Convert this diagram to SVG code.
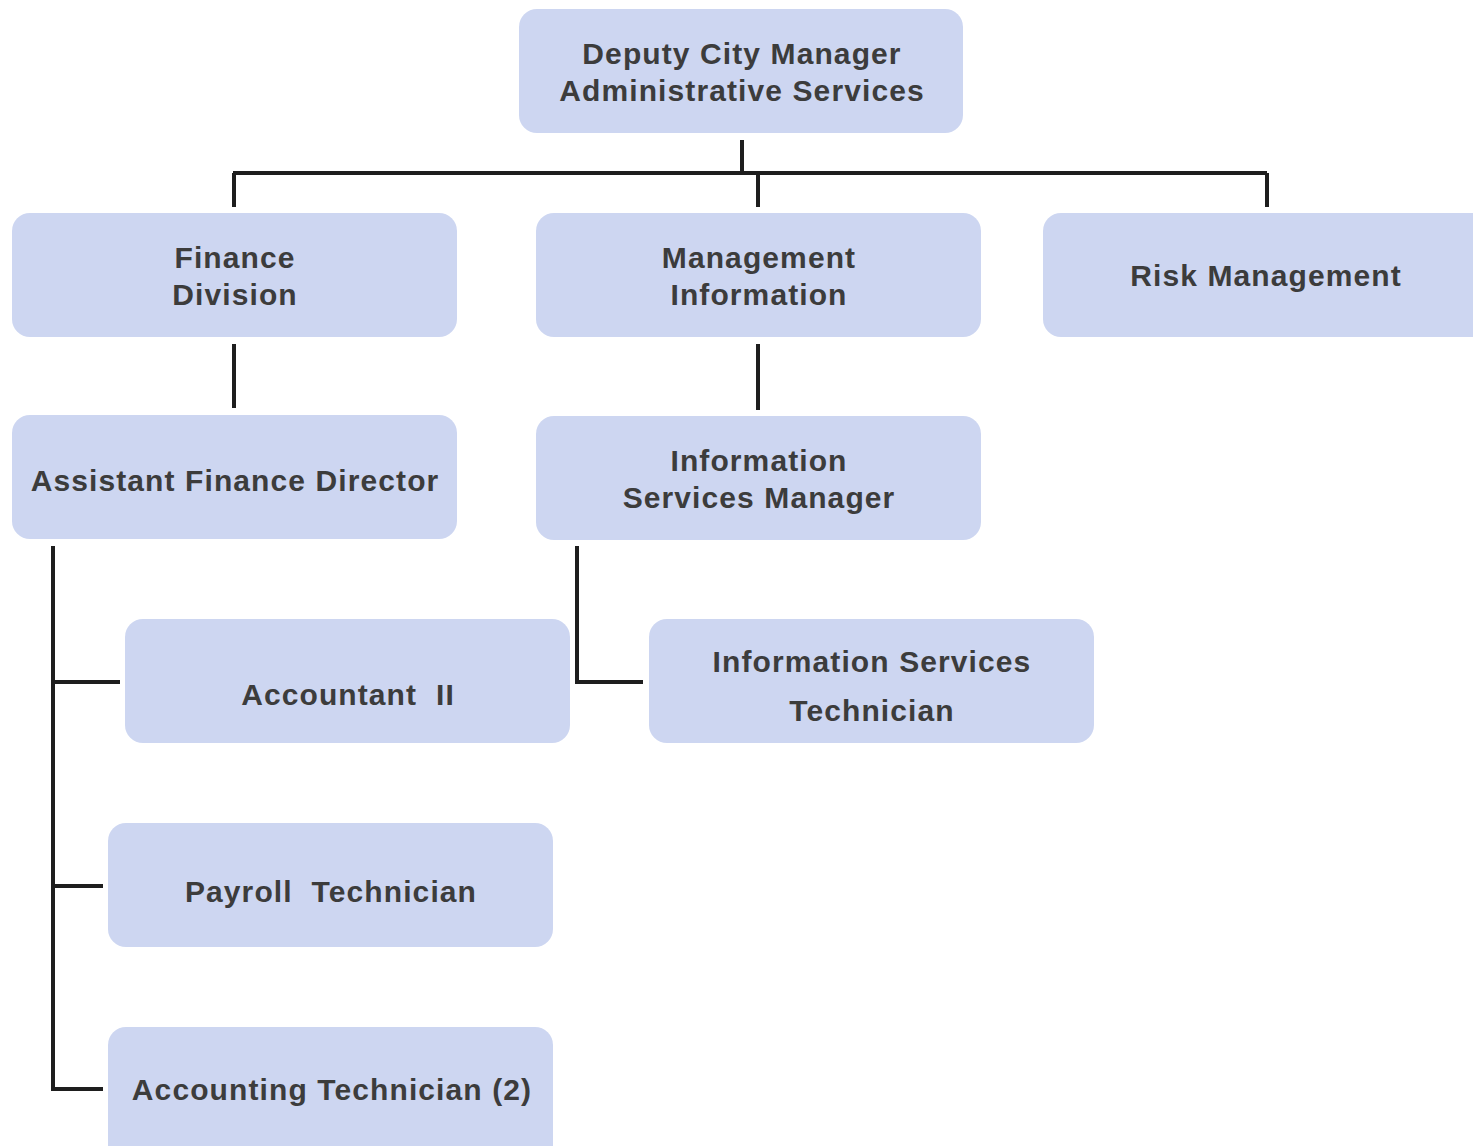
<svg xmlns="http://www.w3.org/2000/svg" width="1473" height="1146" viewBox="0 0 1473 1146">
<style>
.box{fill:#cdd6f1;}
.t{font-family:"Liberation Sans",Arial,sans-serif;font-weight:bold;font-size:30px;fill:#3c3c3c;text-anchor:middle;letter-spacing:1.1px;}
.c{stroke:#1e1e1e;stroke-width:4;fill:none;stroke-linecap:butt;}
</style>
<rect width="1473" height="1146" fill="#ffffff"/>
<g id="connectors">
<path class="c" d="M742 140V173M233 173H1267M234 173V207M758 173V207M1267 173V207"/>
<path class="c" d="M234 344V408M758 344V410"/>
<path class="c" d="M53 546V1089H103M53 682H120M53 886H103"/>
<path class="c" d="M577 546V682H643"/>
</g>
<g id="n-deputy"><rect class="box" x="519" y="9" width="444" height="124" rx="18"/>
<text class="t" x="742" y="64">Deputy City Manager</text><text class="t" x="742" y="101">Administrative Services</text></g>
<g id="n-finance"><rect class="box" x="12" y="213" width="445" height="124" rx="18"/>
<text class="t" x="235" y="268">Finance</text><text class="t" x="235" y="305">Division</text></g>
<g id="n-mis"><rect class="box" x="536" y="213" width="445" height="124" rx="18"/>
<text class="t" x="759" y="268">Management</text><text class="t" x="759" y="305">Information</text></g>
<g id="n-risk"><rect class="box" x="1043" y="213" width="450" height="124" rx="18"/>
<text class="t" x="1266" y="286">Risk Management</text></g>
<g id="n-afd"><rect class="box" x="12" y="415" width="445" height="124" rx="18"/>
<text class="t" x="235" y="491">Assistant Finance Director</text></g>
<g id="n-ism"><rect class="box" x="536" y="416" width="445" height="124" rx="18"/>
<text class="t" x="759" y="471">Information</text><text class="t" x="759" y="508">Services Manager</text></g>
<g id="n-acct"><rect class="box" x="125" y="619" width="445" height="124" rx="18"/>
<text class="t" x="348" y="705" xml:space="preserve">Accountant  II</text></g>
<g id="n-ist"><rect class="box" x="649" y="619" width="445" height="124" rx="18"/>
<text class="t" x="872" y="672">Information Services</text><text class="t" x="872" y="721">Technician</text></g>
<g id="n-payroll"><rect class="box" x="108" y="823" width="445" height="124" rx="18"/>
<text class="t" x="331" y="902" xml:space="preserve">Payroll  Technician</text></g>
<g id="n-accttech"><rect class="box" x="108" y="1027" width="445" height="140" rx="18"/>
<text class="t" x="332" y="1100">Accounting Technician (2)</text></g>
</svg>
